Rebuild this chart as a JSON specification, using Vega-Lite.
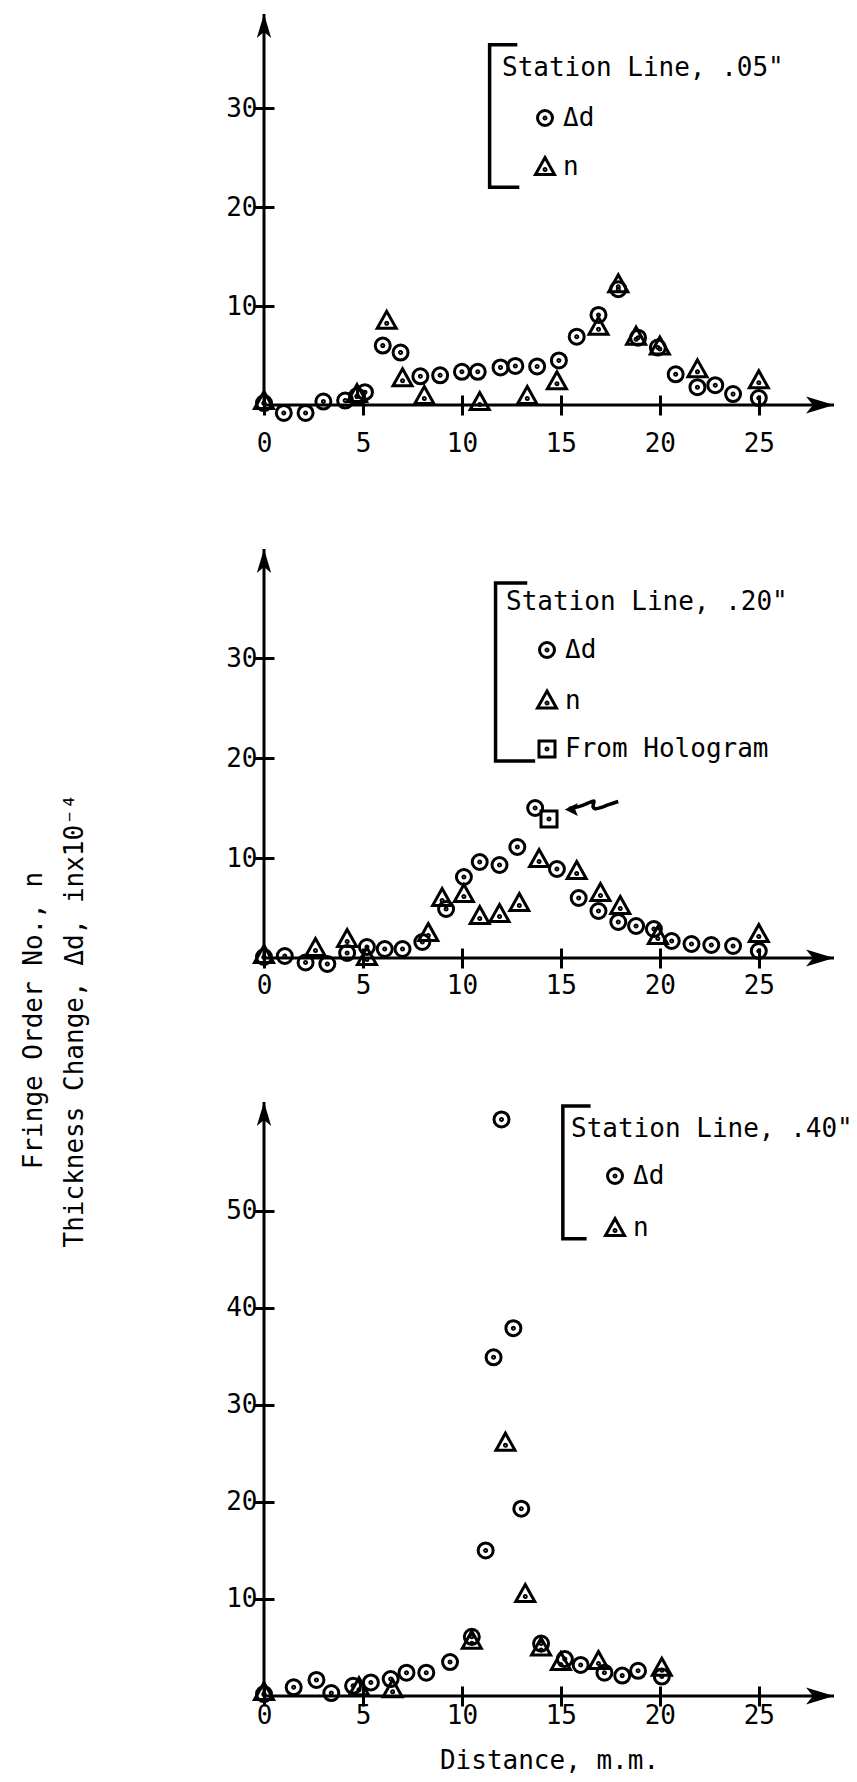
{
  "$schema": "https://vega.github.io/schema/vega-lite/v6.json",
  "background": "white",
  "padding": {"left": 19, "top": 12, "right": 0, "bottom": 5},
  "bounds": "flush",
  "spacing": 144,
  "resolve": {"scale": {"x": "independent", "y": "independent", "shape": "independent"}, "legend": {"shape": "independent"}},
  "config": {
    "view": {"stroke": null},
    "font": "DejaVu Sans Mono",
    "axis": {"labelFont": "DejaVu Sans Mono", "labelFontSize": 26, "labelColor": "black", "tickColor": "black", "tickWidth": 3, "grid": false, "titleFont": "DejaVu Sans Mono", "titleFontSize": 26, "titleFontWeight": "normal", "titleColor": "black", "labelFlush": false, "labelOverlap": false, "domain": false, "offset": -10, "tickSize": 20},
    "legend": {"orient": "none", "padding": 0, "titleFont": "DejaVu Sans Mono", "titleFontSize": 26, "titleFontWeight": "normal", "titleColor": "black", "titleLimit": 600, "labelFont": "DejaVu Sans Mono", "labelFontSize": 26, "labelColor": "black", "labelLimit": 400, "symbolSize": 400, "symbolStrokeWidth": 3, "symbolStrokeColor": "black", "symbolFillColor": "transparent", "labelOffset": 5}
  },
  "datasets": {
    "p1": [
      {"x": 0, "y": 0.2, "series": "Δd"}, {"x": 1.0, "y": -0.8, "series": "Δd"}, {"x": 2.1, "y": -0.8, "series": "Δd"}, {"x": 3.0, "y": 0.35, "series": "Δd"}, {"x": 4.1, "y": 0.45, "series": "Δd"}, {"x": 4.7, "y": 0.9, "series": "Δd"}, {"x": 5.1, "y": 1.3, "series": "Δd"}, {"x": 6.0, "y": 6.0, "series": "Δd"}, {"x": 6.9, "y": 5.3, "series": "Δd"}, {"x": 7.9, "y": 2.9, "series": "Δd"}, {"x": 8.9, "y": 3.0, "series": "Δd"}, {"x": 10.0, "y": 3.35, "series": "Δd"}, {"x": 10.8, "y": 3.35, "series": "Δd"}, {"x": 11.95, "y": 3.8, "series": "Δd"}, {"x": 12.7, "y": 3.95, "series": "Δd"}, {"x": 13.8, "y": 3.9, "series": "Δd"}, {"x": 14.9, "y": 4.5, "series": "Δd"}, {"x": 15.8, "y": 6.9, "series": "Δd"}, {"x": 16.9, "y": 9.1, "series": "Δd"}, {"x": 17.9, "y": 11.7, "series": "Δd"}, {"x": 18.9, "y": 6.8, "series": "Δd"}, {"x": 19.9, "y": 5.8, "series": "Δd"}, {"x": 20.8, "y": 3.1, "series": "Δd"}, {"x": 21.9, "y": 1.8, "series": "Δd"}, {"x": 22.8, "y": 2.0, "series": "Δd"}, {"x": 23.7, "y": 1.1, "series": "Δd"}, {"x": 25.0, "y": 0.7, "series": "Δd"},
      {"x": 0, "y": 0.4, "series": "n"}, {"x": 4.7, "y": 1.1, "series": "n"}, {"x": 6.2, "y": 8.5, "series": "n"}, {"x": 7.0, "y": 2.7, "series": "n"}, {"x": 8.1, "y": 0.9, "series": "n"}, {"x": 10.9, "y": 0.3, "series": "n"}, {"x": 13.3, "y": 0.9, "series": "n"}, {"x": 14.8, "y": 2.4, "series": "n"}, {"x": 16.9, "y": 7.9, "series": "n"}, {"x": 17.9, "y": 12.2, "series": "n"}, {"x": 18.8, "y": 6.9, "series": "n"}, {"x": 20.0, "y": 5.9, "series": "n"}, {"x": 21.9, "y": 3.6, "series": "n"}, {"x": 25.0, "y": 2.5, "series": "n"}
    ],
    "p2": [
      {"x": 0, "y": 0.1, "series": "Δd"}, {"x": 1.05, "y": 0.2, "series": "Δd"}, {"x": 2.1, "y": -0.45, "series": "Δd"}, {"x": 3.2, "y": -0.6, "series": "Δd"}, {"x": 4.2, "y": 0.5, "series": "Δd"}, {"x": 5.2, "y": 1.1, "series": "Δd"}, {"x": 6.1, "y": 0.9, "series": "Δd"}, {"x": 7.0, "y": 0.9, "series": "Δd"}, {"x": 8.0, "y": 1.6, "series": "Δd"}, {"x": 9.2, "y": 4.9, "series": "Δd"}, {"x": 10.1, "y": 8.1, "series": "Δd"}, {"x": 10.9, "y": 9.6, "series": "Δd"}, {"x": 11.9, "y": 9.3, "series": "Δd"}, {"x": 12.8, "y": 11.1, "series": "Δd"}, {"x": 13.7, "y": 15.0, "series": "Δd"}, {"x": 14.8, "y": 8.9, "series": "Δd"}, {"x": 15.9, "y": 6.0, "series": "Δd"}, {"x": 16.9, "y": 4.7, "series": "Δd"}, {"x": 17.9, "y": 3.6, "series": "Δd"}, {"x": 18.8, "y": 3.2, "series": "Δd"}, {"x": 19.7, "y": 2.9, "series": "Δd"}, {"x": 20.6, "y": 1.7, "series": "Δd"}, {"x": 21.6, "y": 1.4, "series": "Δd"}, {"x": 22.6, "y": 1.3, "series": "Δd"}, {"x": 23.7, "y": 1.2, "series": "Δd"}, {"x": 25.0, "y": 0.7, "series": "Δd"},
      {"x": 0, "y": 0.3, "series": "n"}, {"x": 2.6, "y": 1.0, "series": "n"}, {"x": 4.2, "y": 1.9, "series": "n"}, {"x": 5.2, "y": 0.1, "series": "n"}, {"x": 8.3, "y": 2.5, "series": "n"}, {"x": 9.0, "y": 6.0, "series": "n"}, {"x": 10.1, "y": 6.4, "series": "n"}, {"x": 10.9, "y": 4.2, "series": "n"}, {"x": 11.9, "y": 4.4, "series": "n"}, {"x": 12.9, "y": 5.5, "series": "n"}, {"x": 13.9, "y": 9.9, "series": "n"}, {"x": 15.8, "y": 8.7, "series": "n"}, {"x": 17.0, "y": 6.5, "series": "n"}, {"x": 18.0, "y": 5.2, "series": "n"}, {"x": 19.9, "y": 2.2, "series": "n"}, {"x": 25.0, "y": 2.4, "series": "n"},
      {"x": 14.4, "y": 13.9, "series": "From Hologram"}
    ],
    "p3": [
      {"x": 0, "y": 0.2, "series": "Δd"}, {"x": 1.5, "y": 0.9, "series": "Δd"}, {"x": 2.65, "y": 1.65, "series": "Δd"}, {"x": 3.4, "y": 0.3, "series": "Δd"}, {"x": 4.5, "y": 1.05, "series": "Δd"}, {"x": 5.4, "y": 1.4, "series": "Δd"}, {"x": 6.4, "y": 1.75, "series": "Δd"}, {"x": 7.2, "y": 2.4, "series": "Δd"}, {"x": 8.2, "y": 2.4, "series": "Δd"}, {"x": 9.4, "y": 3.5, "series": "Δd"}, {"x": 10.5, "y": 6.1, "series": "Δd"}, {"x": 11.2, "y": 15.0, "series": "Δd"}, {"x": 11.6, "y": 34.9, "series": "Δd"}, {"x": 12.0, "y": 59.4, "series": "Δd"}, {"x": 12.6, "y": 37.9, "series": "Δd"}, {"x": 13.0, "y": 19.3, "series": "Δd"}, {"x": 14.0, "y": 5.4, "series": "Δd"}, {"x": 15.2, "y": 3.8, "series": "Δd"}, {"x": 16.0, "y": 3.2, "series": "Δd"}, {"x": 17.2, "y": 2.4, "series": "Δd"}, {"x": 18.1, "y": 2.1, "series": "Δd"}, {"x": 18.9, "y": 2.6, "series": "Δd"}, {"x": 20.1, "y": 2.0, "series": "Δd"},
      {"x": 0, "y": 0.4, "series": "n"}, {"x": 4.8, "y": 0.9, "series": "n"}, {"x": 6.5, "y": 0.7, "series": "n"}, {"x": 10.5, "y": 5.7, "series": "n"}, {"x": 12.2, "y": 26.1, "series": "n"}, {"x": 13.2, "y": 10.5, "series": "n"}, {"x": 14.0, "y": 5.0, "series": "n"}, {"x": 15.0, "y": 3.5, "series": "n"}, {"x": 16.9, "y": 3.6, "series": "n"}, {"x": 20.1, "y": 2.9, "series": "n"}
    ],
    "e1": [{"axis": "x", "x": 28.8, "y": 0, "x0": 0, "y0": 0}, {"axis": "y", "x": 0, "y": 39.5, "x0": 0, "y0": 0}],
    "e2": [{"axis": "x", "x": 28.8, "y": 0, "x0": 0, "y0": 0}, {"axis": "y", "x": 0, "y": 40.9, "x0": 0, "y0": 0}],
    "e3": [{"axis": "x", "x": 28.8, "y": 0, "x0": 0, "y0": 0}, {"axis": "y", "x": 0, "y": 61.2, "x0": 0, "y0": 0}],
    "b1": [{"i": 1, "x": 12.8, "y": 36.4}, {"i": 2, "x": 11.4, "y": 36.4}, {"i": 3, "x": 11.4, "y": 22.0}, {"i": 4, "x": 12.9, "y": 22.0}],
    "b2": [{"i": 1, "x": 13.3, "y": 37.5}, {"i": 2, "x": 11.7, "y": 37.5}, {"i": 3, "x": 11.7, "y": 19.7}, {"i": 4, "x": 13.7, "y": 19.7}],
    "b3": [{"i": 1, "x": 16.5, "y": 60.8}, {"i": 2, "x": 15.1, "y": 60.8}, {"i": 3, "x": 15.1, "y": 47.1}, {"i": 4, "x": 16.3, "y": 47.1}],
    "a2": [
      {"part": "shaft", "i": 1, "x": 15.4, "y": 14.95}, {"part": "shaft", "i": 2, "x": 15.9, "y": 15.1}, {"part": "shaft", "i": 3, "x": 16.4, "y": 15.5}, {"part": "shaft", "i": 4, "x": 16.75, "y": 15.85}, {"part": "shaft", "i": 5, "x": 16.6, "y": 15.3}, {"part": "shaft", "i": 6, "x": 16.65, "y": 14.85}, {"part": "shaft", "i": 7, "x": 17.0, "y": 15.0}, {"part": "shaft", "i": 8, "x": 17.4, "y": 15.35}, {"part": "shaft", "i": 9, "x": 17.9, "y": 15.65},
      {"part": "head", "i": 0, "x": 15.2, "y": 14.85}
    ]
  },
  "vconcat": [
    {
      "width": 570, "height": 391,
      "encoding": {
        "x": {"field": "x", "type": "quantitative", "scale": {"domain": [0, 28.8], "nice": false, "zero": false}, "axis": {"values": [0, 5, 10, 15, 20, 25], "labelPadding": 15, "title": null}},
        "y": {"field": "y", "type": "quantitative", "scale": {"domain": [0, 39.5], "nice": false, "zero": false}, "axis": {"values": [10, 20, 30], "labelPadding": -3, "title": null}}
      },
      "layer": [
        {"data": {"name": "e1"}, "transform": [{"filter": "datum.axis == 'x'"}], "mark": {"type": "rule", "color": "black", "strokeWidth": 3}, "encoding": {"x2": {"field": "x0"}}},
        {"data": {"name": "e1"}, "transform": [{"filter": "datum.axis == 'y'"}], "mark": {"type": "rule", "color": "black", "strokeWidth": 3}, "encoding": {"y2": {"field": "y0"}}},
        {"data": {"name": "b1"}, "mark": {"type": "line", "color": "black", "strokeWidth": 3.5}, "encoding": {"order": {"field": "i"}}},
        {"data": {"name": "p1"}, "mark": {"type": "point", "filled": false, "stroke": "black", "strokeWidth": 3, "opacity": 1, "size": 400},
          "encoding": {
            "shape": {"field": "series", "type": "nominal", "scale": {"domain": ["Δd", "n"], "range": ["M0.75,0C0.75,0.4142,0.4142,0.75,0,0.75C-0.4142,0.75,-0.75,0.4142,-0.75,0C-0.75,-0.4142,-0.4142,-0.75,0,-0.75C0.4142,-0.75,0.75,-0.4142,0.75,0ZM0.1,0C0.1,0.0552,0.0552,0.1,0,0.1C-0.0552,0.1,-0.1,0.0552,-0.1,0C-0.1,-0.0552,-0.0552,-0.1,0,-0.1C0.0552,-0.1,0.1,-0.0552,0.1,0Z", "M0,-0.95L0.95,0.75L-0.95,0.75ZM0.1,0.25C0.1,0.3052,0.0552,0.35,0,0.35C-0.0552,0.35,-0.1,0.3052,-0.1,0.25C-0.1,0.1948,-0.0552,0.15,0,0.15C0.0552,0.15,0.1,0.1948,0.1,0.25Z"]},
              "legend": {"title": "Station Line, .05\"", "legendX": 238, "legendY": 41, "titlePadding": 24, "rowPadding": 19, "symbolOffset": 30}}
          }},
        {"data": {"name": "e1"}, "transform": [{"filter": "datum.axis == 'x'"}], "mark": {"type": "point", "filled": true, "color": "black", "opacity": 1, "size": 3136, "shape": "M0,0L-1,-0.3L-0.75,0L-1,0.3Z"}},
        {"data": {"name": "e1"}, "transform": [{"filter": "datum.axis == 'y'"}], "mark": {"type": "point", "filled": true, "color": "black", "opacity": 1, "size": 2304, "shape": "M0,0L-0.3,1L0,0.75L0.3,1Z"}}
      ]
    },
    {
      "width": 570, "height": 409,
      "encoding": {
        "x": {"field": "x", "type": "quantitative", "scale": {"domain": [0, 28.8], "nice": false, "zero": false}, "axis": {"values": [0, 5, 10, 15, 20, 25], "labelPadding": 4, "title": null}},
        "y": {"field": "y", "type": "quantitative", "scale": {"domain": [0, 40.9], "nice": false, "zero": false}, "axis": {"values": [10, 20, 30], "labelPadding": -3, "title": null}}
      },
      "layer": [
        {"data": {"name": "e2"}, "transform": [{"filter": "datum.axis == 'x'"}], "mark": {"type": "rule", "color": "black", "strokeWidth": 3}, "encoding": {"x2": {"field": "x0"}}},
        {"data": {"name": "e2"}, "transform": [{"filter": "datum.axis == 'y'"}], "mark": {"type": "rule", "color": "black", "strokeWidth": 3}, "encoding": {"y2": {"field": "y0"}}},
        {"data": {"name": "b2"}, "mark": {"type": "line", "color": "black", "strokeWidth": 3.5}, "encoding": {"order": {"field": "i"}}},
        {"data": {"name": "a2"}, "transform": [{"filter": "datum.part == 'shaft'"}], "mark": {"type": "line", "color": "black", "strokeWidth": 3.5, "interpolate": "basis"}, "encoding": {"order": {"field": "i"}}},
        {"data": {"name": "a2"}, "transform": [{"filter": "datum.part == 'head'"}], "mark": {"type": "point", "filled": true, "color": "black", "opacity": 1, "size": 676, "shape": "M0,0L1,-0.5L0.8,0L1,0.5Z"}},
        {"data": {"name": "p2"}, "mark": {"type": "point", "filled": false, "stroke": "black", "strokeWidth": 3, "opacity": 1, "size": 400},
          "encoding": {
            "shape": {"field": "series", "type": "nominal", "scale": {"domain": ["Δd", "n", "From Hologram"], "range": ["M0.75,0C0.75,0.4142,0.4142,0.75,0,0.75C-0.4142,0.75,-0.75,0.4142,-0.75,0C-0.75,-0.4142,-0.4142,-0.75,0,-0.75C0.4142,-0.75,0.75,-0.4142,0.75,0ZM0.1,0C0.1,0.0552,0.0552,0.1,0,0.1C-0.0552,0.1,-0.1,0.0552,-0.1,0C-0.1,-0.0552,-0.0552,-0.1,0,-0.1C0.0552,-0.1,0.1,-0.0552,0.1,0Z", "M0,-0.95L0.95,0.75L-0.95,0.75ZM0.1,0.25C0.1,0.3052,0.0552,0.35,0,0.35C-0.0552,0.35,-0.1,0.3052,-0.1,0.25C-0.1,0.1948,-0.0552,0.15,0,0.15C0.0552,0.15,0.1,0.1948,0.1,0.25Z", "M-0.8,-0.8L0.8,-0.8L0.8,0.8L-0.8,0.8ZM0.1,0C0.1,0.0552,0.0552,0.1,0,0.1C-0.0552,0.1,-0.1,0.0552,-0.1,0C-0.1,-0.0552,-0.0552,-0.1,0,-0.1C0.0552,-0.1,0.1,-0.0552,0.1,0Z"]},
              "legend": {"title": "Station Line, .20\"", "legendX": 242, "legendY": 40, "titlePadding": 22, "rowPadding": 20.5, "symbolOffset": 28}}
          }},
        {"data": {"name": "e2"}, "transform": [{"filter": "datum.axis == 'x'"}], "mark": {"type": "point", "filled": true, "color": "black", "opacity": 1, "size": 3136, "shape": "M0,0L-1,-0.3L-0.75,0L-1,0.3Z"}},
        {"data": {"name": "e2"}, "transform": [{"filter": "datum.axis == 'y'"}], "mark": {"type": "point", "filled": true, "color": "black", "opacity": 1, "size": 2304, "shape": "M0,0L-0.3,1L0,0.75L0.3,1Z"}}
      ]
    },
    {
      "width": 570, "height": 594,
      "encoding": {
        "x": {"field": "x", "type": "quantitative", "scale": {"domain": [0, 28.8], "nice": false, "zero": false}, "axis": {"values": [0, 5, 10, 15, 20, 25], "labelPadding": -4, "title": "Distance, m.m.", "titlePadding": 19}},
        "y": {"field": "y", "type": "quantitative", "scale": {"domain": [0, 61.2], "nice": false, "zero": false}, "axis": {"values": [10, 20, 30, 40, 50], "labelPadding": -3, "title": ["Fringe Order No., n", "Thickness Change, Δd, inx10⁻⁴"], "titleFontSize": 26, "titleX": -241, "titleY": -82, "titleAngle": 270, "titleAlign": "center", "titleBaseline": "middle", "titleLineHeight": 41, "titleLimit": 1000}}
      },
      "layer": [
        {"data": {"name": "e3"}, "transform": [{"filter": "datum.axis == 'x'"}], "mark": {"type": "rule", "color": "black", "strokeWidth": 3}, "encoding": {"x2": {"field": "x0"}}},
        {"data": {"name": "e3"}, "transform": [{"filter": "datum.axis == 'y'"}], "mark": {"type": "rule", "color": "black", "strokeWidth": 3}, "encoding": {"y2": {"field": "y0"}}},
        {"data": {"name": "b3"}, "mark": {"type": "line", "color": "black", "strokeWidth": 3.5}, "encoding": {"order": {"field": "i"}}},
        {"data": {"name": "p3"}, "mark": {"type": "point", "filled": false, "stroke": "black", "strokeWidth": 3, "opacity": 1, "size": 400},
          "encoding": {
            "shape": {"field": "series", "type": "nominal", "scale": {"domain": ["Δd", "n"], "range": ["M0.75,0C0.75,0.4142,0.4142,0.75,0,0.75C-0.4142,0.75,-0.75,0.4142,-0.75,0C-0.75,-0.4142,-0.4142,-0.75,0,-0.75C0.4142,-0.75,0.75,-0.4142,0.75,0ZM0.1,0C0.1,0.0552,0.0552,0.1,0,0.1C-0.0552,0.1,-0.1,0.0552,-0.1,0C-0.1,-0.0552,-0.0552,-0.1,0,-0.1C0.0552,-0.1,0.1,-0.0552,0.1,0Z", "M0,-0.95L0.95,0.75L-0.95,0.75ZM0.1,0.25C0.1,0.3052,0.0552,0.35,0,0.35C-0.0552,0.35,-0.1,0.3052,-0.1,0.25C-0.1,0.1948,-0.0552,0.15,0,0.15C0.0552,0.15,0.1,0.1948,0.1,0.25Z"]},
              "legend": {"title": "Station Line, .40\"", "legendX": 307, "legendY": 14, "titlePadding": 21, "rowPadding": 22, "symbolOffset": 31}}
          }},
        {"data": {"name": "e3"}, "transform": [{"filter": "datum.axis == 'x'"}], "mark": {"type": "point", "filled": true, "color": "black", "opacity": 1, "size": 3136, "shape": "M0,0L-1,-0.3L-0.75,0L-1,0.3Z"}},
        {"data": {"name": "e3"}, "transform": [{"filter": "datum.axis == 'y'"}], "mark": {"type": "point", "filled": true, "color": "black", "opacity": 1, "size": 2304, "shape": "M0,0L-0.3,1L0,0.75L0.3,1Z"}}
      ]
    }
  ]
}
